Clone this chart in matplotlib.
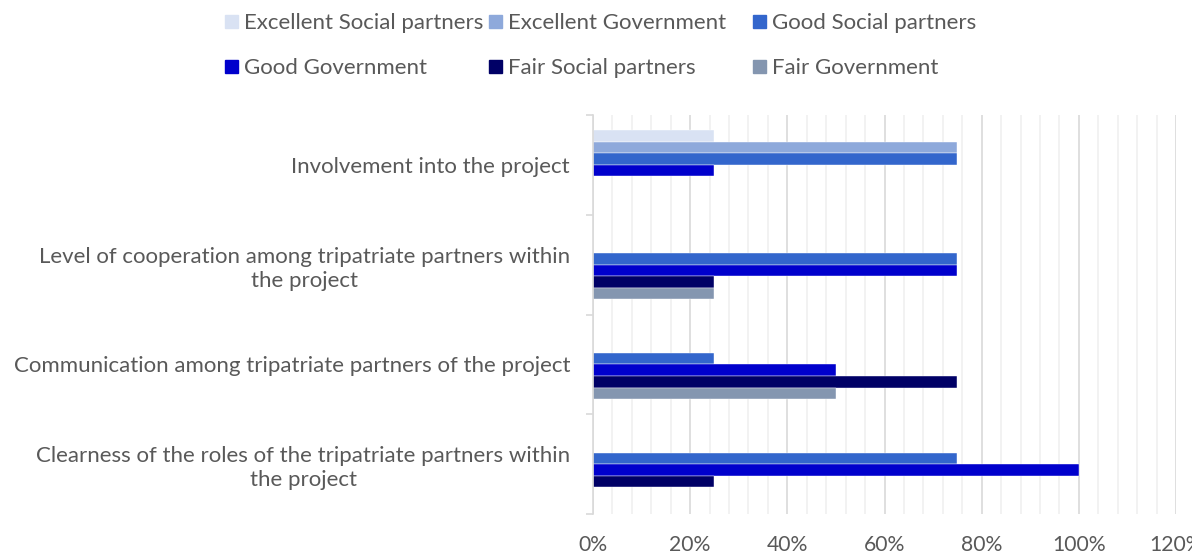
import matplotlib.pyplot as plt
from matplotlib.patches import Rectangle
import numpy as np

# survey answers, in percent
categories = [
    "Involvement into the project",
    "Level of cooperation among tripatriate partners within\nthe project",
    "Communication among tripatriate partners of the project",
    "Clearness of the roles of the tripatriate partners within\nthe project",
]
series = [
    "Excellent Social partners",
    "Excellent Government",
    "Good Social partners",
    "Good Government",
    "Fair Social partners",
    "Fair Government",
]
excellent_social = [25, 0, 0, 0]
excellent_gov = [75, 0, 0, 0]
good_social = [75, 75, 25, 75]
good_gov = [25, 75, 50, 100]
fair_social = [0, 25, 75, 25]
fair_gov = [0, 25, 50, 0]
values = [excellent_social, excellent_gov, good_social, good_gov, fair_social, fair_gov]
colors = ["#D9E2F3", "#8EA9DB", "#3366CC", "#0000CC", "#000066", "#8496B0"]

plt.rcParams['font.family'] = ['Lato', 'DejaVu Sans']
txt = "#595959"

fig = plt.figure(figsize=(11.92, 5.56), dpi=100)
ax = fig.add_axes([593 / 1192, 1 - 514 / 556, (1176 - 593) / 1192, (514 - 115) / 556])

n = len(categories)
h = 0.116
centers = np.arange(n)[::-1] + 0.5
for j, (vals, col) in enumerate(zip(values, colors)):
    ax.barh(centers + (2.5 - j) * h, vals, height=h, color=col,
            edgecolor="white", linewidth=0.3, zorder=3)

ax.set_xlim(0, 120)
ax.set_ylim(0, n)

# grid: light every 4 %, darker every 20 %
ax.set_xticks(np.arange(0, 121, 20))
ax.set_xticklabels([f"{v}%" for v in range(0, 121, 20)], color=txt, fontsize=15.2)
ax.set_xticks(np.arange(0, 121, 4), minor=True)
ax.grid(axis="x", which="minor", color="#F0F0F0", linewidth=1.2, zorder=0)
ax.grid(axis="x", which="major", color="#D9D9D9", linewidth=1.2, zorder=0)
ax.tick_params(axis="x", which="both", length=0, pad=15)

ax.set_yticks(centers)
ax.set_yticklabels(categories, color=txt, fontsize=16, multialignment="center",
                   linespacing=1.25)
ax.set_yticks(np.arange(n + 1), minor=True)
ax.tick_params(axis="y", which="major", length=0, pad=16.5)
ax.tick_params(axis="y", which="minor", length=5, color="#D9D9D9", width=1.2)

for s in ["top", "right", "bottom"]:
    ax.spines[s].set_visible(False)
ax.spines["left"].set_color("#D9D9D9")
ax.spines["left"].set_linewidth(1.2)
ax.spines["left"].set_zorder(4)

# legend, three columns in two rows
leg_x = [225, 489, 753]
leg_y = [28, 73]
for k, (name, col) in enumerate(zip(series, colors)):
    x0 = leg_x[k % 3]
    y0 = leg_y[k // 3]
    fig.patches.append(Rectangle((x0 / 1192, 1 - y0 / 556), 13 / 1192, 13 / 556,
                                 transform=fig.transFigure, color=col))
    fig.text((x0 + 19) / 1192, 1 - (y0 + 1) / 556, name, color=txt, fontsize=16,
             va="baseline")

fig.savefig("out.png", dpi=100)
